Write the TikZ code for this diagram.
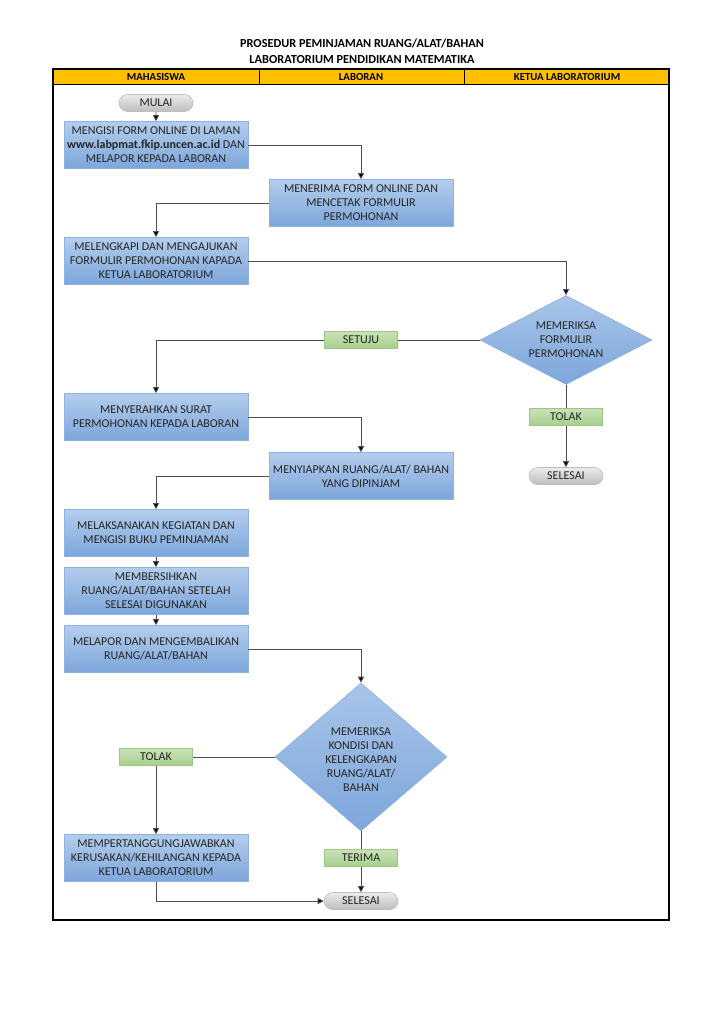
\documentclass[tikz,border=0pt]{standalone}
\usepackage{fontspec}
\setmainfont{Carlito}
\usetikzlibrary{shapes.geometric,shapes.misc,arrows.meta,shadings}
\definecolor{hdr}{HTML}{FFC000}
\definecolor{bluetop}{HTML}{B3CDEC}
\definecolor{bluebot}{HTML}{7DA6DB}
\definecolor{blueedge}{HTML}{8FB2E0}
\definecolor{greentop}{HTML}{C9E2B8}
\definecolor{greenbot}{HTML}{A6CF8B}
\definecolor{greenedge}{HTML}{9CC783}
\definecolor{graytop}{HTML}{EBEBEB}
\definecolor{graybot}{HTML}{BDBDBD}
\definecolor{lineclr}{HTML}{4D4D4D}
\tikzset{
  boxfont/.style={font=\fontsize{12}{14}\selectfont, text=black!85},
  proc/.style={draw=blueedge, line width=0.6pt, top color=bluetop, bottom color=bluebot,
    minimum width=184pt, minimum height=47pt, inner sep=1pt, align=center, boxfont},
  dec/.style={diamond, draw=blueedge, line width=0.6pt, top color=bluetop!80!bluebot, bottom color=bluebot,
    inner sep=0pt},
  dectext/.style={align=center, inner sep=0pt, boxfont},
  lbl/.style={draw=greenedge, line width=0.6pt, top color=greentop, bottom color=greenbot,
    minimum width=73pt, minimum height=17pt, inner sep=0pt, boxfont},
  term/.style={rounded rectangle, draw=graybot, line width=0.6pt, top color=graytop, bottom color=graybot,
    minimum width=74pt, minimum height=17pt, inner sep=0pt, boxfont},
  conn/.style={draw=lineclr, line width=0.8pt},
  arr/.style={conn, -{Triangle[length=6pt,width=6pt,fill=black]}},
  hdrtext/.style={font=\fontsize{10.8}{13}\selectfont},
}
\begin{document}
\begin{tikzpicture}[x=1pt,y=-1pt]
\useasboundingbox (0,0) rectangle (724,1024);
\fill[white] (0,0) rectangle (724,1024);
% title
\node[font=\fontsize{12.3}{14}\selectfont] (t1) at (362,43) {\textbf{PROSEDUR PEMINJAMAN RUANG/ALAT/BAHAN}};
\node[font=\fontsize{12.3}{14}\selectfont] (t2) at (362,60) {\textbf{LABORATORIUM PENDIDIKAN MATEMATIKA}};
% frame and header
\draw[line width=0.9pt, fill=hdr] (53,69) rectangle (669,84);
\draw[line width=0.9pt] (259,69) -- (259,84) (464,69) -- (464,84);
\draw[line width=1.3pt] (53,69) rectangle (669,920);
\node[hdrtext] (h1) at (156,77) {\textbf{MAHASISWA}};
\node[hdrtext] (h2) at (361,77) {\textbf{LABORAN}};
\node[hdrtext] (h3) at (567,77) {\textbf{KETUA LABORATORIUM}};
% nodes
\node[term] (mulai) at (156,103) {MULAI};
\node[proc] (b1) at (156,145) {MENGISI FORM ONLINE DI LAMAN\\\textbf{www.labpmat.fkip.uncen.ac.id} DAN\\MELAPOR KEPADA LABORAN};
\node[proc] (b2) at (361,203) {MENERIMA FORM ONLINE DAN\\MENCETAK FORMULIR\\PERMOHONAN};
\node[proc] (b3) at (156,261) {MELENGKAPI DAN MENGAJUKAN\\FORMULIR PERMOHONAN KAPADA\\KETUA LABORATORIUM};
\node[dec, minimum width=172pt, minimum height=89pt] (d1) at (566,340) {};
\node[dectext] (d1t) at (d1.center) {MEMERIKSA\\FORMULIR\\PERMOHONAN};
\node[lbl] (setuju) at (361,340) {SETUJU};
\node[lbl] (tolak1) at (566,417) {TOLAK};
\node[term] (sel1) at (566,476) {SELESAI};
\node[proc] (b4) at (156,417) {MENYERAHKAN SURAT\\PERMOHONAN KEPADA LABORAN};
\node[proc] (b5) at (361,476) {MENYIAPKAN RUANG/ALAT/ BAHAN\\YANG DIPINJAM};
\node[proc] (b6) at (156,533) {MELAKSANAKAN KEGIATAN DAN\\MENGISI BUKU PEMINJAMAN};
\node[proc] (b7) at (156,591) {MEMBERSIHKAN\\RUANG/ALAT/BAHAN SETELAH\\SELESAI DIGUNAKAN};
\node[proc] (b8) at (156,649) {MELAPOR DAN MENGEMBALIKAN\\RUANG/ALAT/BAHAN};
\node[dec, minimum width=172pt, minimum height=148pt] (d2) at (361,757) {};
\node[dectext] (d2t) at (361,760) {MEMERIKSA\\KONDISI DAN\\KELENGKAPAN\\RUANG/ALAT/\\BAHAN};
\node[lbl] (tolak2) at (156,757) {TOLAK};
\node[lbl] (terima) at (361,858) {TERIMA};
\node[proc] (b9) at (156,858) {MEMPERTANGGUNGJAWABKAN\\KERUSAKAN/KEHILANGAN KEPADA\\KETUA LABORATORIUM};
\node[term] (sel2) at (361,901) {SELESAI};
% connectors
\draw[arr] (mulai) -- (b1);
\draw[arr] (b1.east) -| (b2.north);
\draw[arr] (b2.west) -| (b3.north);
\draw[arr] (b3.east) -| (d1.north);
\draw[conn] (d1.west) -- (setuju.east);
\draw[arr] (setuju.west) -| (b4.north);
\draw[conn] (d1.south) -- (tolak1.north);
\draw[arr] (tolak1.south) -- (sel1.north);
\draw[arr] (b4.east) -| (b5.north);
\draw[arr] (b5.west) -| (b6.north);
\draw[arr] (b6) -- (b7);
\draw[arr] (b7) -- (b8);
\draw[arr] (b8.east) -| (d2.north);
\draw[conn] (d2.west) -- (tolak2.east);
\draw[arr] (tolak2.south) -- (b9.north);
\draw[conn] (d2.south) -- (terima.north);
\draw[arr] (terima.south) -- (sel2.north);
\draw[arr] (b9.south) |- (sel2.west);
\end{tikzpicture}
\end{document}
